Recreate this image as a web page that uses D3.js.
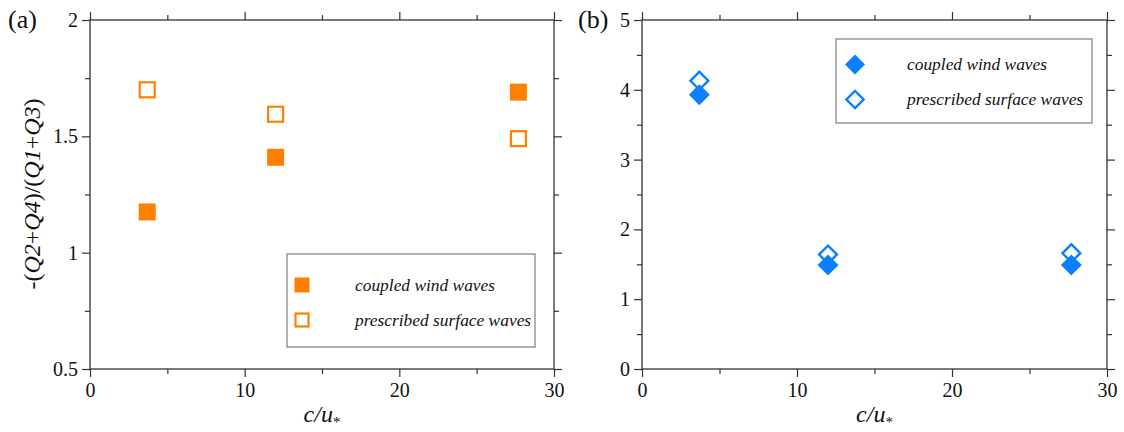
<!DOCTYPE html>
<html>
<head>
<meta charset="utf-8">
<script src="https://cdn.jsdelivr.net/npm/d3@7"></script>
<style>
body{margin:0;background:#fff}
svg{display:block}
.tk line{stroke:#333;stroke-width:1.2}
.tk .domain{display:none}
</style>
</head>
<body>
<svg width="1124" height="432"></svg>
<script>
// data
const cu = [3.7, 12, 27.7]
const coupledA = [1.175, 1.41, 1.69]
const prescribedA = [1.70, 1.595, 1.49]
const coupledB = [3.93, 1.49, 1.49]
const prescribedB = [4.13, 1.64, 1.66]
const xTicks = [0, 10, 20, 30]
const xMinor = [5, 15, 25]
const yTicksA = [0.5, 1, 1.5, 2]
const yMinorA = [0.75, 1.25, 1.75]
const yTicksB = [0, 1, 2, 3, 4, 5]
const yMinorB = [0.5, 1.5, 2.5, 3.5, 4.5]
const legendNames = ["coupled wind waves", "prescribed surface waves"]

const orange = "#ff8000", blue = "#0a80ff"
const serif = "'Liberation Serif', 'Times New Roman', serif"
const svg = d3.select("svg")
const yTop = 20, yBot = 369

fmt = (d) => String(d)
lab = (sel) => sel.selectAll("text").style("font-family", serif).style("font-size", "20px").attr("fill", "#111")

panel = (x0, x1, yDom, yT, yM, label, lx) => {
  const x = d3.scaleLinear().domain([0, 30]).range([x0, x1])
  const y = d3.scaleLinear().domain(yDom).range([yBot, yTop])
  const g = svg.append("g")
  // minor ticks all four sides
  g.append("g").attr("class", "tk").attr("transform", `translate(0,${yBot})`)
    .call(d3.axisBottom(x).tickValues(xMinor).tickSize(5).tickFormat(""))
  g.append("g").attr("class", "tk").attr("transform", `translate(0,${yTop})`)
    .call(d3.axisTop(x).tickValues(xMinor).tickSize(5).tickFormat(""))
  g.append("g").attr("class", "tk").attr("transform", `translate(${x0},0)`)
    .call(d3.axisLeft(y).tickValues(yM).tickSize(5).tickFormat(""))
  g.append("g").attr("class", "tk").attr("transform", `translate(${x1},0)`)
    .call(d3.axisRight(y).tickValues(yM).tickSize(5).tickFormat(""))
  // major ticks
  g.append("g").attr("class", "tk").attr("transform", `translate(0,${yBot})`)
    .call(d3.axisBottom(x).tickValues(xTicks).tickSize(8).tickPadding(6).tickFormat(fmt)).call(lab)
  g.append("g").attr("class", "tk").attr("transform", `translate(0,${yTop})`)
    .call(d3.axisTop(x).tickValues(xTicks).tickSize(8).tickFormat(""))
  g.append("g").attr("class", "tk").attr("transform", `translate(${x0},0)`)
    .call(d3.axisLeft(y).tickValues(yT).tickSize(8).tickPadding(4).tickFormat(fmt)).call(lab)
  g.append("g").attr("class", "tk").attr("transform", `translate(${x1},0)`)
    .call(d3.axisRight(y).tickValues(yT).tickSize(8).tickFormat(""))
  g.append("rect").attr("x", x0).attr("y", yTop).attr("width", x1 - x0).attr("height", yBot - yTop)
    .attr("fill", "none").attr("stroke", "#333").attr("stroke-width", 1.3)
  // x title
  const t = g.append("text").attr("x", (x0 + x1) / 2).attr("y", 422).attr("text-anchor", "middle")
    .style("font-family", serif).style("font-style", "italic").style("font-size", "24px").attr("fill", "#111")
  t.append("tspan").text("c/u")
  t.append("tspan").text("*").style("font-size", "15px").attr("dy", 5).style("font-style", "normal")
  svg.append("text").attr("x", lx).attr("y", 28).text(label)
    .style("font-family", serif).style("font-size", "26px").attr("fill", "#111")
  return { x, y, g }
}

const A = panel(90, 554, [0.5, 2], yTicksA, yMinorA, "(a)", 8)
const B = panel(642, 1107, [0, 5], yTicksB, yMinorB, "(b)", 578)

// y title for panel a
const yl = svg.append("text").attr("transform", "translate(40,194) rotate(-90)").attr("text-anchor", "middle")
  .style("font-family", serif).style("font-size", "24px").attr("fill", "#111")
const parts = [["-(", 0], ["Q2", 1], ["+", 0], ["Q4", 1], [")/(", 0], ["Q1", 1], ["+", 0], ["Q3", 1], [")", 0]]
parts.forEach(p => yl.append("tspan").text(p[0]).style("font-style", p[1] ? "italic" : "normal"))

// panel a markers
A.g.selectAll(".ca").data(cu).join("rect")
  .attr("x", (d) => A.x(d) - 8.5).attr("y", (d, i) => A.y(coupledA[i]) - 8.5)
  .attr("width", 17).attr("height", 17).attr("fill", orange)
A.g.selectAll(".pa").data(cu).join("rect")
  .attr("x", (d) => A.x(d) - 7.5).attr("y", (d, i) => A.y(prescribedA[i]) - 7.5)
  .attr("width", 15).attr("height", 15).attr("fill", "#fff").attr("stroke", orange).attr("stroke-width", 2.2)

// panel b markers
const dFill = d3.symbol(d3.symbolSquare, 220)()
const dOpen = d3.symbol(d3.symbolSquare, 160)()
B.g.selectAll(".cb").data(cu).join("path").attr("d", dFill)
  .attr("transform", (d, i) => `translate(${B.x(d)},${B.y(coupledB[i])}) rotate(45)`).attr("fill", blue)
B.g.selectAll(".pb").data(cu).join("path").attr("d", dOpen)
  .attr("transform", (d, i) => `translate(${B.x(d)},${B.y(prescribedB[i])}) rotate(45)`)
  .attr("fill", "none").attr("stroke", blue).attr("stroke-width", 2.4)

// legends
legend = (bx, by, bw, bh, rows, tx, mark) => {
  svg.append("rect").attr("x", bx).attr("y", by).attr("width", bw).attr("height", bh)
    .attr("fill", "#fff").attr("stroke", "#888").attr("stroke-width", 1.3)
  legendNames.forEach((n, i) => {
    mark(rows[i], i)
    svg.append("text").attr("x", tx).attr("y", rows[i] + 5.5).text(n)
      .style("font-family", serif).style("font-style", "italic").style("font-size", "17.4px").attr("fill", "#111")
  })
}
legend(287, 254, 248, 93, [285, 320], 355, (cy, i) => {
  if (i == 0) svg.append("rect").attr("x", 302 - 7.5).attr("y", cy - 7.5).attr("width", 15).attr("height", 15).attr("fill", orange)
  else svg.append("rect").attr("x", 302 - 6.5).attr("y", cy - 6.5).attr("width", 13).attr("height", 13)
    .attr("fill", "#fff").attr("stroke", orange).attr("stroke-width", 2.2)
})
legend(836, 39, 256, 84, [64.5, 99.5], 907, (cy, i) => {
  if (i == 0) svg.append("path").attr("d", d3.symbol(d3.symbolSquare, 200)()).attr("transform", `translate(855,${cy}) rotate(45)`).attr("fill", blue)
  else svg.append("path").attr("d", d3.symbol(d3.symbolSquare, 150)()).attr("transform", `translate(855,${cy}) rotate(45)`)
    .attr("fill", "none").attr("stroke", blue).attr("stroke-width", 2.4)
})
</script>
</body>
</html>
